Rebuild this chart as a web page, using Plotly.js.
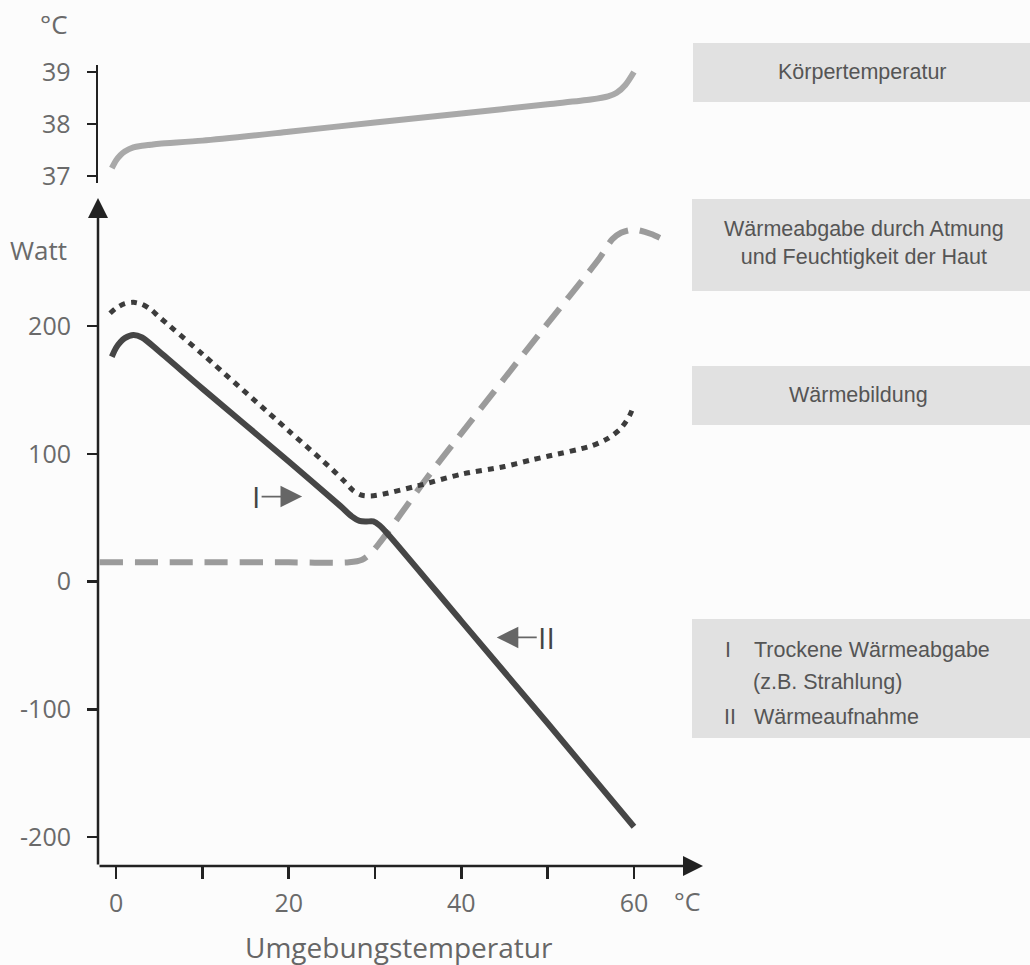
<!DOCTYPE html>
<html>
<head>
<meta charset="utf-8">
<script src="https://cdn.plot.ly/plotly-3.0.1.min.js"></script>
<style>
  html, body { margin: 0; padding: 0; background: #fcfcfc; }
  #chart { width: 1030px; height: 965px; }
</style>
</head>
<body>
<div id="chart"></div>
<script>
// ---- Data ----
// Körpertemperatur (°C) vs Umgebungstemperatur
const bodyX    = [-0.5, 0, 0.5, 1, 2, 3, 4, 5, 10, 20, 30, 40, 50, 55, 57, 58, 59, 60];
const bodyTemp = [37.15, 37.3, 37.4, 37.47, 37.55, 37.58, 37.6, 37.62, 37.68, 37.85, 38.03, 38.2, 38.38, 38.47, 38.53, 38.6, 38.75, 39.0];

// Trockene Wärmeabgabe / Wärmeaufnahme (solid, Watt)
const dryX   = [-0.5, 0, 0.5, 1, 2, 3, 5, 10, 20, 26, 27.3, 28.2, 29, 29.8, 30.5, 31.5, 40, 50, 60];
const dryW   = [176, 183, 187.5, 190.5, 193, 191, 180, 151, 94, 59, 51, 47.5, 47, 47, 44, 37, -31, -111, -192];

// Wärmebildung (dotted, Watt)
const prodX  = [-0.7, 0, 1, 2, 3, 4, 5, 10, 20, 25, 26.5, 27.5, 28.5, 29.5, 31, 35, 40, 45, 48, 50, 55, 57, 58.5, 59.5, 60];
const prodW  = [210, 214, 217.5, 218.5, 217, 213, 207, 178, 118, 88, 78, 71, 67.5, 67, 68.5, 75, 84, 90, 95, 98, 106, 112, 120, 130, 138];

// Wärmeabgabe durch Atmung und Feuchtigkeit der Haut (dashed, Watt)
const evapX  = [-1.9, 5, 10, 20, 27, 28.5, 29.5, 30.5, 31.5, 33, 36, 40, 50, 56, 57.5, 58.5, 59.5, 60.5, 62, 63];
const evapW  = [15, 15, 15, 15, 15, 17, 22, 30, 39, 53, 81, 116, 202, 253, 268, 273, 275, 275, 272, 269];

// Axis ticks
const xTickVals  = [0, 10, 20, 30, 40, 50, 60];
const xTickText  = ['0', '', '20', '', '40', '', '60'];
const wTickVals  = [-200, -100, 0, 100, 200];
const wTickText  = ['-200', '-100', '0', '100', '200'];
const tTickVals  = [37, 38, 39];
const tTickText  = ['37', '38', '39'];

// Labels
const boxLabels = ['Körpertemperatur', 'Wärmeabgabe durch Atmung<br>und Feuchtigkeit der Haut', 'Wärmebildung'];
const xTitle = 'Umgebungstemperatur';

// ---- Layout helpers (pixel -> paper) ----
const L = 98, R = 327, T = 65, B = 99;
const PW = 1030 - L - R, PH = 965 - T - B;
const px = v => (v - L) / PW;
const py = v => (965 - B - v) / PH;

const tickFont = { family: 'Open Sans, sans-serif', size: 25, color: '#6a6a6a' };
const unitFont = { family: 'Open Sans, sans-serif', size: 26, color: '#6a6a6a' };
const boxFont  = { family: 'Liberation Sans, Arial, sans-serif', size: 21.5, color: '#555555' };
const romanFont = { family: 'Open Sans, sans-serif', size: 30, color: '#444444' };

const traces = [
  { x: bodyX, y: bodyTemp, xaxis: 'x', yaxis: 'y2', mode: 'lines',
    line: { color: '#a9a9a9', width: 6, shape: 'spline', smoothing: 0.8 }, hoverinfo: 'skip' },
  { x: evapX, y: evapW, mode: 'lines',
    line: { color: '#9b9b9b', width: 6, dash: '23px,12px', shape: 'spline', smoothing: 0.8 }, hoverinfo: 'skip' },
  { x: prodX, y: prodW, mode: 'lines',
    line: { color: '#3c3c3c', width: 5, dash: '6px,6px', shape: 'spline', smoothing: 0.8 }, hoverinfo: 'skip' },
  { x: dryX, y: dryW, mode: 'lines',
    line: { color: '#464646', width: 6, shape: 'spline', smoothing: 0.8 }, hoverinfo: 'skip' }
];

const shapes = [
  [693, 43, 102], [692, 199, 291], [692, 366, 425], [692, 619, 738]
].map(([x0, y0, y1]) => ({
  type: 'rect', xref: 'paper', yref: 'paper', layer: 'below',
  x0: px(x0), x1: px(1030), y0: py(y1), y1: py(y0),
  fillcolor: '#e1e1e1', line: { width: 0 }
}));

const ann = (x, y, text, font, extra) => Object.assign({
  xref: 'paper', yref: 'paper', x: px(x), y: py(y), text: text, showarrow: false,
  font: font, xanchor: 'center', yanchor: 'middle'
}, extra || {});

const annotations = [
  // Axis arrows
  { xref: 'x', yref: 'y', axref: 'x', ayref: 'y', x: -2.1, y: 300.2, ax: -2.1, ay: -222.7,
    text: '', showarrow: true, arrowhead: 2, arrowsize: 1.6, arrowwidth: 2.5, arrowcolor: '#222', standoff: 0 },
  { xref: 'x', yref: 'y', axref: 'x', ayref: 'y', x: 68, y: -222.7, ax: -2.1, ay: -222.7,
    text: '', showarrow: true, arrowhead: 2, arrowsize: 1.6, arrowwidth: 2.5, arrowcolor: '#222', standoff: 0 },
  // Axis unit labels and title
  ann(54, 24, '°C', unitFont),
  ann(38, 250, 'Watt', unitFont),
  ann(687, 901, '°C', tickFont),
  ann(399, 947, xTitle, { family: 'Open Sans, sans-serif', size: 28, color: '#666' }),
  // Curve markers I and II
  { xref: 'x', yref: 'y', x: 21.55, y: 66.5, ax: -46, ay: 0, text: 'I', showarrow: true,
    arrowhead: 2, arrowsize: 2.4, arrowwidth: 1.8, arrowcolor: '#666', standoff: 0, font: romanFont },
  { xref: 'x', yref: 'y', x: 44.1, y: -43.8, ax: 50, ay: 0, text: 'II', showarrow: true,
    arrowhead: 2, arrowsize: 2.4, arrowwidth: 1.8, arrowcolor: '#666', standoff: 0, font: romanFont },
  // Box labels
  ann(862, 72, boxLabels[0], boxFont),
  ann(864, 243, boxLabels[1], boxFont),
  ann(858, 395, boxLabels[2], boxFont),
  ann(728, 650, 'I', boxFont),
  ann(752, 650, 'Trockene Wärmeabgabe', boxFont, { xanchor: 'left' }),
  ann(751, 682, '(z.B. Strahlung)', boxFont, { xanchor: 'left' }),
  ann(730, 717, 'II', boxFont),
  ann(752, 717, 'Wärmeaufnahme', boxFont, { xanchor: 'left' })
];

const layout = {
  width: 1030, height: 965,
  margin: { l: L, r: R, t: T, b: B, pad: 0 },
  paper_bgcolor: '#fcfcfc', plot_bgcolor: 'rgba(0,0,0,0)',
  showlegend: false,
  xaxis: {
    domain: [0, 1], range: [-2.1, 68], anchor: 'y',
    tickvals: xTickVals, ticktext: xTickText,
    ticks: 'outside', ticklen: 12, tickwidth: 2.5, tickcolor: '#222',
    showline: false, zeroline: false, showgrid: false,
    tickfont: tickFont, ticklabelstandoff: 3
  },
  yaxis: {
    domain: [0, py(198)], range: [-222.7, 300.2], anchor: 'x',
    tickvals: wTickVals, ticktext: wTickText,
    ticks: 'outside', ticklen: 10, tickwidth: 2.5, tickcolor: '#222',
    showline: false, zeroline: false, showgrid: false,
    tickfont: tickFont, ticklabelstandoff: 11
  },
  yaxis2: {
    domain: [py(183), 1], range: [36.865, 39.135], anchor: 'x',
    tickvals: tTickVals, ticktext: tTickText,
    ticks: 'outside', ticklen: 9, tickwidth: 2.5, tickcolor: '#222',
    showline: true, linecolor: '#222', linewidth: 2.5,
    zeroline: false, showgrid: false,
    tickfont: tickFont, ticklabelstandoff: 11
  },
  shapes: shapes,
  annotations: annotations
};

Plotly.newPlot('chart', traces, layout, { staticPlot: true, displayModeBar: false });
</script>
</body>
</html>
